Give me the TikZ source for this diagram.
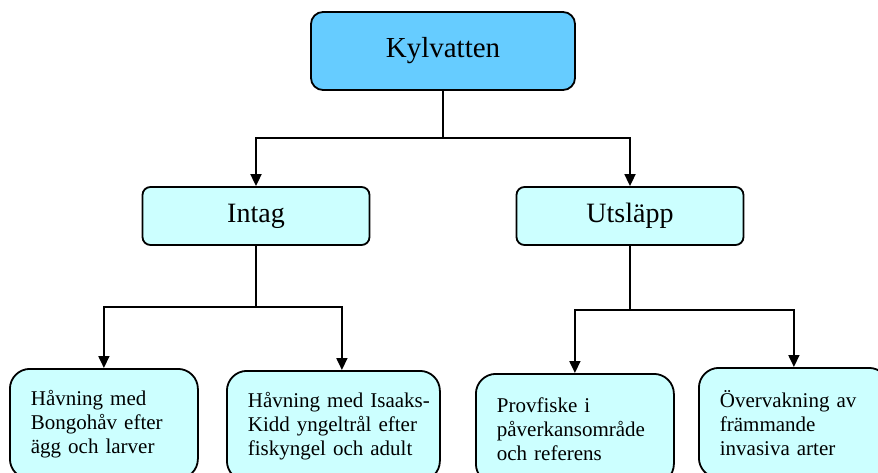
\documentclass[tikz,border=0pt]{standalone}
\usepackage{fontspec}
\setmainfont{Liberation Serif}
\usetikzlibrary{arrows.meta,calc}
\definecolor{topblue}{HTML}{66CCFF}
\definecolor{lightcyan}{HTML}{CCFFFF}
\begin{document}
\begin{tikzpicture}[x=1pt,y=-1pt,
  boxbase/.style={draw=black, line width=1.8pt, inner sep=0pt},
  topbox/.style={boxbase, fill=topblue, rounded corners=12pt, minimum width=264pt, minimum height=78pt, font=\fontsize{29}{34}\selectfont},
  midbox/.style={boxbase, fill=lightcyan, rounded corners=8pt, minimum width=227pt, minimum height=58pt, font=\fontsize{28}{33}\selectfont},
  lowbox/.style={boxbase, fill=lightcyan, rounded corners=20pt, minimum height=110pt, inner xsep=21pt, align=left, anchor=north west, font=\fontsize{21}{24}\selectfont},
  conn/.style={draw=black, line width=1.8pt},
  arr/.style={conn, -{Triangle[length=12pt,width=11pt]}}]
\useasboundingbox (0,0) rectangle (878,473);
\clip (0,0) rectangle (878,473);

\node[topbox] (top) at (443,51) {Kylvatten};
\node[midbox] (intag) at (256,216) {Intag};
\node[midbox] (uts) at (630,216) {Utsläpp};

\node[lowbox, text width=146pt] (b1) at (9,368) {\mbox{Håvning med}\\\mbox{Bongohåv efter}\\\mbox{ägg och larver}};
\node[lowbox, text width=171pt] (b2) at (226,370) {\mbox{Håvning med Isaaks-}\\\mbox{Kidd yngeltrål efter}\\\mbox{fiskyngel\ och adult}};
\node[lowbox, text width=156pt] (b3) at (475,373) {\mbox{Provfiske i}\\\mbox{påverkansområde}\\\mbox{och referens}};
\node[lowbox, text width=148pt] (b4) at (698,367) {\mbox{Övervakning\ av}\\\mbox{främmande}\\\mbox{invasiva\ arter}};

\coordinate (j1) at (443,138);
\draw[conn] (top.south) -- (j1);
\draw[arr] (j1) -| (intag.north);
\draw[arr] (j1) -| (uts.north);

\coordinate (j2) at (256,307);
\draw[conn] (intag.south) -- (j2);
\draw[arr] (j2) -| (b1.north);
\draw[arr] (j2) -| ($(b2.north)+(8.5,0)$);

\coordinate (j3) at (630,310);
\draw[conn] (uts.south) -- (j3);
\draw[arr] (j3) -| (b3.north);
\draw[arr] (j3) -| (b4.north);
\end{tikzpicture}
\end{document}
